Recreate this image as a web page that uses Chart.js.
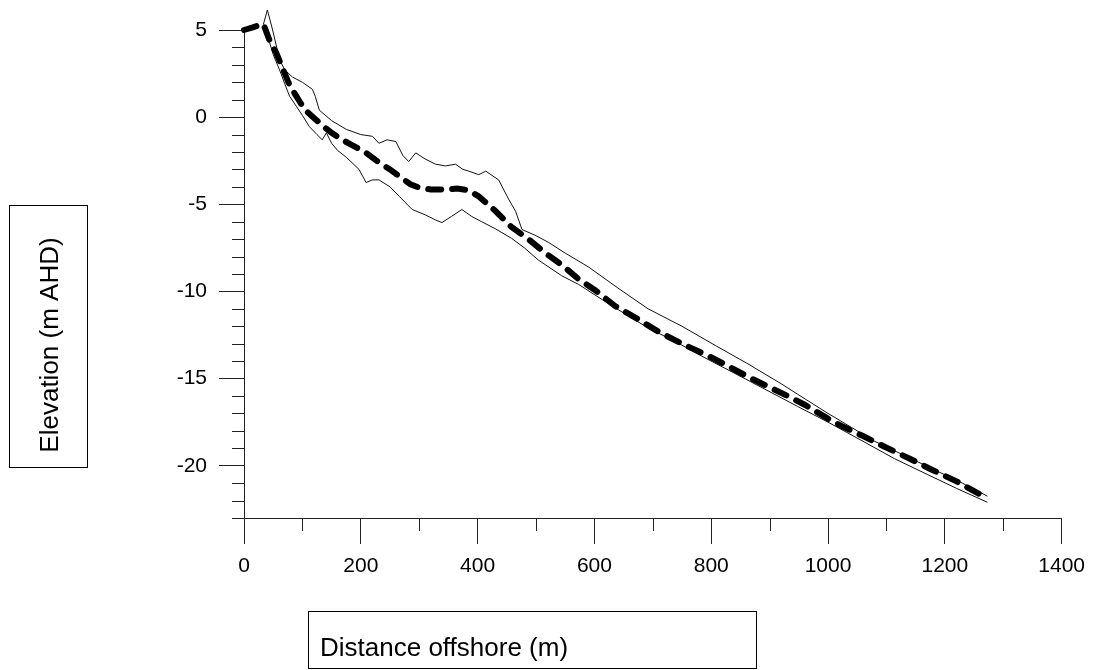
<!DOCTYPE html>
<html>
<head>
<meta charset="utf-8">
<script src="https://cdn.jsdelivr.net/npm/chart.js@4.4.0/dist/chart.umd.min.js"></script>
<style>
  body { margin: 0; background: #fff; }
  #wrap { width: 1095px; height: 670px; }
</style>
</head>
<body>
<div id="wrap"><canvas id="profile" width="1095" height="670"></canvas></div>
<script>
// mean profile (thick dashed)
const meanDist = [0, 15, 33, 45, 55, 65, 76, 86, 97, 105, 115, 137, 150, 168, 185, 209, 231, 250, 266, 285, 300, 320, 345, 365, 385, 402, 431, 458, 487, 516, 545, 573, 600, 636, 670, 709, 750, 795, 830, 863, 900, 931, 960, 1000, 1022, 1060, 1096, 1140, 1176, 1220, 1269];
const meanElev = [5, 5.15, 5.35, 4.3, 3.7, 2.9, 2.0, 1.4, 0.8, 0.4, 0.1, -0.55, -0.9, -1.3, -1.6, -2.05, -2.6, -3.0, -3.4, -3.85, -4.05, -4.15, -4.15, -4.1, -4.2, -4.55, -5.4, -6.3, -7.0, -7.8, -8.5, -9.3, -9.9, -10.85, -11.5, -12.3, -13.0, -13.7, -14.3, -14.9, -15.5, -16.0, -16.5, -17.3, -17.7, -18.3, -18.9, -19.6, -20.2, -20.9, -21.8];

// upper envelope
const upperDist = [33, 40, 49, 61, 70, 83, 100, 117, 122, 129, 150, 175, 200, 220, 231, 245, 260, 272, 282, 294, 310, 328, 345, 362, 375, 385, 402, 414, 436, 453, 465, 476, 500, 522, 550, 590, 640, 692, 750, 807, 860, 920, 948, 1000, 1040, 1080, 1130, 1180, 1230, 1273];
const upperElev = [5.3, 6.15, 5.0, 3.3, 2.7, 2.3, 2.0, 1.6, 1.2, 0.4, -0.2, -0.7, -1.0, -1.1, -1.5, -1.3, -1.4, -2.2, -2.55, -2.05, -2.4, -2.7, -2.8, -2.7, -3.0, -3.1, -3.3, -3.1, -3.6, -4.7, -5.4, -6.45, -6.8, -7.2, -7.8, -8.6, -9.8, -11.0, -12.0, -13.1, -14.1, -15.3, -15.9, -17.0, -17.8, -18.6, -19.4, -20.2, -21.0, -21.75];

// lower envelope
const lowerDist = [33, 40, 50, 61, 70, 78, 90, 100, 112, 125, 134, 141, 150, 160, 175, 197, 209, 220, 231, 250, 266, 288, 310, 328, 339, 355, 373, 390, 407, 430, 458, 480, 504, 544, 573, 624, 692, 740, 783, 863, 948, 1000, 1060, 1114, 1170, 1220, 1273];
const lowerElev = [5.2, 4.7, 3.6, 2.7, 1.9, 1.2, 0.6, 0.1, -0.55, -1.0, -1.3, -0.9, -1.5, -1.9, -2.3, -3.0, -3.75, -3.6, -3.6, -4.0, -4.55, -5.3, -5.6, -5.9, -6.05, -5.7, -5.3, -5.7, -6.0, -6.4, -6.95, -7.5, -8.2, -9.1, -9.6, -10.7, -12.1, -12.9, -13.7, -15.1, -16.6, -17.5, -18.6, -19.6, -20.5, -21.3, -22.1];

const yMajor = [-20, -15, -10, -5, 0, 5];

function pts(xs, ys) {
  return xs.map((d, i) => ({ x: d, y: ys[i] }));
}

const font = "Arial, 'Liberation Sans', sans-serif";
const axisColor = '#222';

// boxed axis titles + minor ticks
const extras = {
  id: 'extras',
  afterDraw(chart) {
    const c = chart.ctx;
    const a = chart.chartArea;
    const xs = chart.scales.x, ys = chart.scales.y;
    c.save();
    c.strokeStyle = axisColor;
    c.lineWidth = 1;
    c.beginPath();
    for (let v = -23; v <= 5; v++) {
      if (v % 5 === 0) continue;
      const py = Math.round(ys.getPixelForValue(v)) + 0.5;
      c.moveTo(a.left - 12, py);
      c.lineTo(a.left, py);
    }
    for (let v = 100; v <= 1300; v += 200) {
      const px = Math.round(xs.getPixelForValue(v)) + 0.5;
      c.moveTo(px, a.bottom);
      c.lineTo(px, a.bottom + 13);
    }
    c.stroke();

    // title boxes
    c.strokeStyle = '#000';
    c.strokeRect(308.5, 611.5, 448, 57);
    c.strokeRect(9.5, 205.5, 78, 262);
    c.fillStyle = '#000';
    c.font = '26px ' + font;
    c.textAlign = 'left';
    c.textBaseline = 'alphabetic';
    c.fillText('Distance offshore (m)', 320, 656);
    c.translate(58, 345);
    c.rotate(-Math.PI / 2);
    c.textAlign = 'center';
    c.fillText('Elevation (m AHD)', 0, 0);
    c.restore();
  }
};

new Chart(document.getElementById('profile'), {
  type: 'line',
  data: {
    datasets: [
      {
        label: 'Mean',
        data: pts(meanDist, meanElev),
        borderColor: '#000',
        borderWidth: 6,
        borderDash: [13, 11],
        borderCapStyle: 'round',
        pointRadius: 0,
        clip: false,
        order: 0
      },
      {
        label: 'Upper',
        data: pts(upperDist, upperElev),
        borderColor: '#111',
        borderWidth: 1,
        pointRadius: 0,
        clip: false,
        order: 1
      },
      {
        label: 'Lower',
        data: pts(lowerDist, lowerElev),
        borderColor: '#111',
        borderWidth: 1,
        pointRadius: 0,
        clip: false,
        order: 1
      }
    ]
  },
  options: {
    responsive: false,
    animation: false,
    layout: { padding: { top: 30, right: 33, left: 0, bottom: 0 } },
    plugins: {
      legend: { display: false },
      tooltip: { enabled: false }
    },
    scales: {
      x: {
        type: 'linear',
        min: 0,
        max: 1400,
        afterFit: (s) => { s.height = 152; },
        ticks: {
          stepSize: 200,
          color: '#000',
          padding: 10,
          font: { family: font, size: 21 },
          callback: (v) => String(v)
        },
        grid: { drawOnChartArea: false, tickLength: 26, color: axisColor },
        border: { color: axisColor }
      },
      y: {
        type: 'linear',
        min: -23,
        max: 5,
        afterFit: (s) => { s.width = 244; },
        afterBuildTicks: (s) => { s.ticks = yMajor.map(v => ({ value: v })); },
        ticks: {
          color: '#000',
          padding: 12,
          font: { family: font, size: 21 },
          callback: (v) => String(v)
        },
        grid: { drawOnChartArea: false, tickLength: 25, color: axisColor },
        border: { color: axisColor }
      }
    }
  },
  plugins: [extras]
});
</script>
</body>
</html>
